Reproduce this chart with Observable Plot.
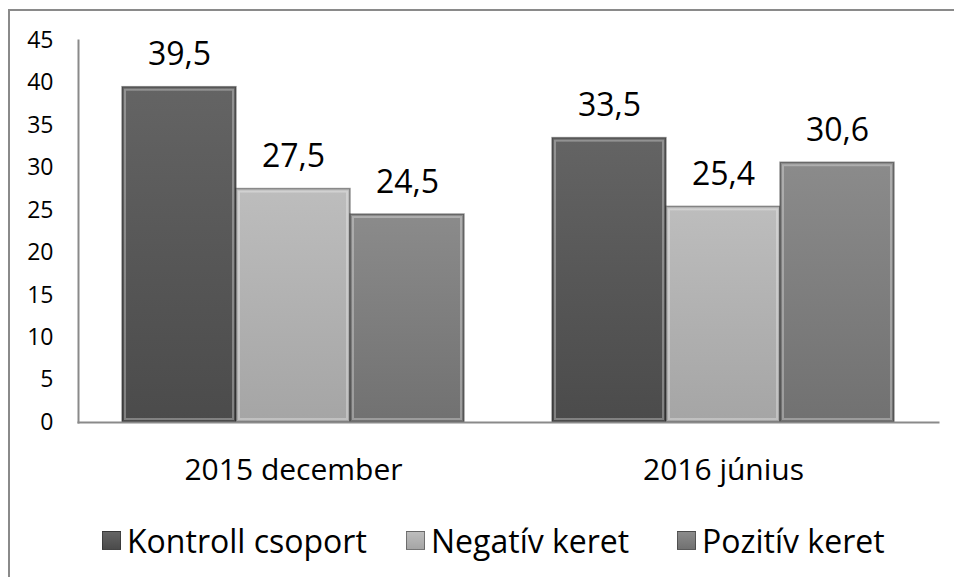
<!DOCTYPE html>
<html>
<head>
<meta charset="utf-8">
<script src="https://cdn.jsdelivr.net/npm/d3@7"></script>
<script src="https://cdn.jsdelivr.net/npm/@observablehq/plot@0.6"></script>
<style>
  html, body { margin: 0; padding: 0; background: #fff; }
  body { width: 954px; height: 577px; position: relative; overflow: hidden; font-family: "Open Sans", sans-serif; }
  #frame { position: absolute; left: 8px; top: 9px; width: 960px; height: 600px; border-top: 2px solid #8a8a8a; border-left: 2px solid #8a8a8a; box-sizing: border-box; }
  #chart { position: absolute; left: 0; top: 0; }
  #chart g[aria-label="y-axis tick label"] { font-size: 23px; }
  #legend { position: absolute; left: 0; top: 516px; width: 954px; height: 48px; font-size: 32px; color: #000; }
  .item { position: absolute; top: 0; height: 48px; display: flex; align-items: center; white-space: nowrap; }
  .sw { width: 19px; height: 19px; margin-right: 6px; box-sizing: border-box; }
</style>
</head>
<body>
<div id="frame"></div>
<div id="chart"></div>
<div id="legend"></div>
<script>
// ---- data ----
const groups = ["2015 december", "2016 június"];
const series = ["Kontroll csoport", "Negatív keret", "Pozitív keret"];
const kontroll = [39.5, 33.5];
const negativ = [27.5, 25.4];
const pozitiv = [24.5, 30.6];
const yTicks = [0, 5, 10, 15, 20, 25, 30, 35, 40, 45];

const seriesValues = [kontroll, negativ, pozitiv];
const data = [];
groups.forEach((g, gi) => {
  series.forEach((s, si) => {
    data.push({group: g, series: s, value: seriesValues[si][gi]});
  });
});

const gradStops = [
  ["#646464", "#575757", "#4b4b4b"],
  ["#bdbdbd", "#b1b1b1", "#a5a5a5"],
  ["#8b8b8b", "#7e7e7e", "#717171"]
];
const gradIds = series.map((s, i) => `grad${i}`);

const fmt = v => String(v).replace(".", ",");

const chart = Plot.plot({
  width: 954,
  height: 500,
  marginTop: 40,
  marginBottom: 78,
  marginLeft: 77,
  marginRight: 16,
  style: {fontFamily: "Open Sans, sans-serif", color: "#000", background: "transparent", overflow: "visible"},
  fx: {domain: groups, paddingInner: 0, paddingOuter: 0, label: null},
  x: {domain: series, paddingInner: 0, paddingOuter: 0.375, axis: null},
  y: {domain: [0, 45], ticks: yTicks, label: null, axis: null},
  color: {domain: series, range: gradIds.map(id => `url(#${id})`)},
  marks: [
    Plot.barY(data, {fx: "group", x: "series", y: "value", fill: "series", stroke: "rgba(30,30,30,0.45)", strokeWidth: 1.5}),
    Plot.barY(data, {fx: "group", x: "series", y: "value", fill: "none", stroke: "rgba(255,255,255,0.3)", strokeWidth: 2, inset: 3}),
    Plot.text(data, {fx: "group", x: "series", y: "value", text: d => fmt(d.value), lineAnchor: "bottom", dy: -22, fontSize: 32, fill: "#000"}),
    Plot.axisY({ticks: yTicks, tickSize: 0, tickPadding: 25, fontSize: 23, tickFormat: d => String(d)}),
    Plot.axisFx({anchor: "bottom", tickSize: 0, tickPadding: 36, fontSize: 30, label: null}),
    Plot.frame({anchor: "bottom", facet: "super", stroke: "#8a8a8a", strokeWidth: 2}),
    Plot.frame({anchor: "left", facet: "super", stroke: "#8a8a8a", strokeWidth: 2})
  ]
});

// gradients
const svgNS = "http://www.w3.org/2000/svg";
const defs = document.createElementNS(svgNS, "defs");
gradIds.forEach((id, i) => {
  const lg = document.createElementNS(svgNS, "linearGradient");
  lg.setAttribute("id", id);
  lg.setAttribute("x1", "0"); lg.setAttribute("y1", "0");
  lg.setAttribute("x2", "0"); lg.setAttribute("y2", "1");
  gradStops[i].forEach((c, k) => {
    const st = document.createElementNS(svgNS, "stop");
    st.setAttribute("offset", String(k / (gradStops[i].length - 1)));
    st.setAttribute("stop-color", c);
    lg.appendChild(st);
  });
  defs.appendChild(lg);
});
chart.insertBefore(defs, chart.firstChild);
document.getElementById("chart").appendChild(chart);

// legend
const legend = document.getElementById("legend");
const legendX = [102, 406, 677];
series.forEach((s, i) => {
  const item = document.createElement("div");
  item.className = "item";
  item.style.left = legendX[i] + "px";
  const sw = document.createElement("div");
  sw.className = "sw";
  sw.style.background = `linear-gradient(${gradStops[i][0]}, ${gradStops[i][2]})`;
  sw.style.border = "1px solid rgba(30,30,30,0.45)";
  const t = document.createElement("span");
  t.textContent = s;
  item.appendChild(sw); item.appendChild(t);
  legend.appendChild(item);
});
</script>
</body>
</html>
